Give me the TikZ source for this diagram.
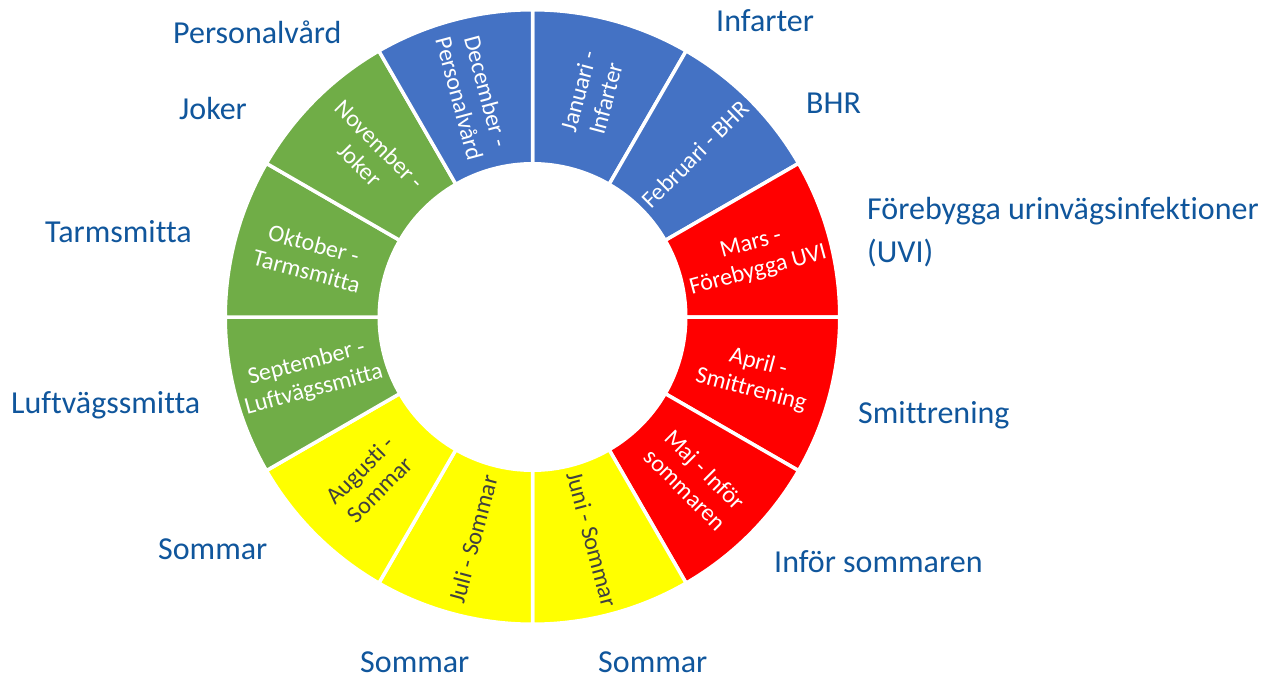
\documentclass[tikz,border=0pt]{standalone}
\usepackage{fontspec}
\setmainfont{Carlito}[Ligatures={NoCommon}]
\definecolor{cblue}{HTML}{4472C4}
\definecolor{cred}{HTML}{FF0000}
\definecolor{cyellow}{HTML}{FFFF00}
\definecolor{cgreen}{HTML}{70AD47}
\definecolor{lblue}{RGB}{16,86,156}
\definecolor{dtext}{HTML}{404040}
\begin{document}
\begin{tikzpicture}[x=1pt,y=1pt,
  segtxt/.style={font=\fontsize{24}{28}\selectfont, align=center, text=white, inner sep=0pt},
  ytxt/.style={segtxt, text=dtext},
  lbl/.style={font=\fontsize{32}{43}\selectfont, text=lblue, anchor=base west, inner sep=0pt}]
\useasboundingbox (-532.5,-360) rectangle (748.5,317);
\fill[white] (-532.5,-360) rectangle (748.5,317);
\foreach \i/\c in {0/cblue,1/cblue,2/cred,3/cred,4/cred,5/cyellow,6/cyellow,7/cyellow,8/cgreen,9/cgreen,10/cgreen,11/cblue} {
  \pgfmathsetmacro\a{90-30*\i}
  \pgfmathsetmacro\b{60-30*\i}
  \filldraw[fill=\c,draw=white,line width=3.5pt] (\a:307.25) arc[start angle=\a,end angle=\b,radius=307.25] -- (\b:153.25) arc[start angle=\b,end angle=\a,radius=153.25] -- cycle;
}
% segment texts
\node[segtxt,rotate=75] (s1) at (75:230) {Januari -\\Infarter};
\node[segtxt,rotate=45] (s2) at (45:230) {Februari - BHR};
\node[segtxt,rotate=15] (s3) at (15:230) {Mars -\\Förebygga UVI};
\node[segtxt,rotate=-15] (s4) at (-15:230) {April -\\Smittrening};
\node[segtxt,rotate=-45] (s5) at (-45:230) {Maj - Inför\\sommaren};
\node[ytxt,rotate=-75] (s6) at (-75:230) {Juni - Sommar};
\node[ytxt,rotate=75] (s7) at (-105:230) {Juli - Sommar};
\node[ytxt,rotate=45] (s8) at (-135:230) {Augusti -\\Sommar};
\node[segtxt,rotate=15] (s9) at (-165:230) {September -\\Luftvägssmitta};
\node[segtxt,rotate=-15] (s10) at (165:230) {Oktober -\\Tarmsmitta};
\node[segtxt,rotate=-45] (s11) at (135:230) {November -\\Joker};
\node[segtxt,rotate=-75] (s12) at (105:230) {December -\\Personalvård};
% outer labels
\node[lbl] (l12) at (-359.5,273.5) {Personalvård};
\node[lbl] (l1) at (183.5,285) {Infarter};
\node[lbl] (l2) at (273.5,203.5) {BHR};
\node[lbl] (l3) at (334.5,97) {Förebygga urinvägsinfektioner};
\node[lbl] (l3b) at (334.5,54) {(UVI)};
\node[lbl] (l4) at (325.5,-106) {Smittrening};
\node[lbl] (l5) at (241.5,-255.7) {Inför sommaren};
\node[lbl] (l6) at (65.5,-355.7) {Sommar};
\node[lbl] (l7) at (-172.5,-355.7) {Sommar};
\node[lbl] (l8) at (-374.5,-242) {Sommar};
\node[lbl] (l9) at (-521.5,-96.3) {Luftvägssmitta};
\node[lbl] (l10) at (-487.5,74) {Tarmsmitta};
\node[lbl] (l11) at (-353.5,197) {Joker};
\end{tikzpicture}
\end{document}
